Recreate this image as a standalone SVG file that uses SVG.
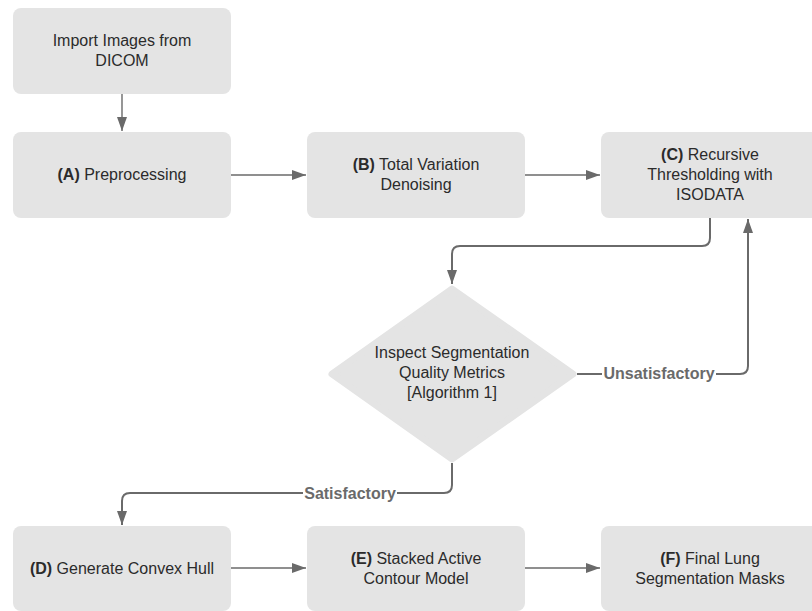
<svg xmlns="http://www.w3.org/2000/svg" width="812" height="611" viewBox="0 0 812 611">
<style>
.box{fill:#e4e4e4;}
.t{font-family:"Liberation Sans",Arial,sans-serif;font-size:16px;fill:#2b2b2b;text-anchor:middle;}
.b{font-weight:bold;}
.c{fill:none;stroke:#6a6a6a;}
.thin{stroke-width:1.4;}
.thick{stroke-width:2;}
.lbl{font-family:"Liberation Sans",Arial,sans-serif;font-size:16px;font-weight:bold;fill:#6a6a6a;text-anchor:middle;}
</style>
<defs>
<marker id="ah" markerUnits="userSpaceOnUse" markerWidth="14" markerHeight="10" refX="14" refY="5" orient="auto">
<path d="M0,0 L14,5 L0,10 z" fill="#6a6a6a"/>
</marker>
</defs>
<rect width="812" height="611" fill="#ffffff"/>
<g id="connectors">
<path class="c thin" d="M122,94 V131" marker-end="url(#ah)"/>
<path class="c thin" d="M231,175 H306" marker-end="url(#ah)"/>
<path class="c thin" d="M525,175 H600" marker-end="url(#ah)"/>
<path class="c thin" d="M231,568 H306" marker-end="url(#ah)"/>
<path class="c thin" d="M525,568 H600" marker-end="url(#ah)"/>
<path class="c thick" d="M710,218 V238 Q710,246 702,246 H460 Q452,246 452,254 V284" marker-end="url(#ah)"/>
<path class="c thick" d="M577,374 H740 Q748,374 748,366 V219" marker-end="url(#ah)"/>
<path class="c thick" d="M452,463 V485 Q452,493 444,493 H130 Q122,493 122,501 V525" marker-end="url(#ah)"/>
<rect x="602" y="364" width="114" height="20" fill="#ffffff"/>
<text class="lbl" x="659" y="379">Unsatisfactory</text>
<rect x="303" y="484" width="94" height="20" fill="#ffffff"/>
<text class="lbl" x="350" y="499">Satisfactory</text>
</g>
<g id="import">
<rect class="box" x="13" y="8" width="218" height="86" rx="8"/>
<text class="t" x="122" y="46">Import Images from</text>
<text class="t" x="122" y="66">DICOM</text>
</g>
<g id="nodeA">
<rect class="box" x="13" y="132" width="218" height="86" rx="8"/>
<text class="t" x="122" y="180"><tspan class="b">(A)</tspan> Preprocessing</text>
</g>
<g id="nodeB">
<rect class="box" x="307" y="132" width="218" height="86" rx="8"/>
<text class="t" x="416" y="170"><tspan class="b">(B)</tspan> Total Variation</text>
<text class="t" x="416" y="190">Denoising</text>
</g>
<g id="nodeC">
<rect class="box" x="601" y="132" width="218" height="86" rx="8"/>
<text class="t" x="710" y="160"><tspan class="b">(C)</tspan> Recursive</text>
<text class="t" x="710" y="180">Thresholding with</text>
<text class="t" x="710" y="200">ISODATA</text>
</g>
<g id="decision">
<polygon points="452,289 573,374 452,459 332,374" fill="#e4e4e4" stroke="#e4e4e4" stroke-width="7" stroke-linejoin="round"/>
<text class="t" x="452" y="358">Inspect Segmentation</text>
<text class="t" x="452" y="378">Quality Metrics</text>
<text class="t" x="452" y="398">[Algorithm 1]</text>
</g>
<g id="nodeD">
<rect class="box" x="13" y="526" width="218" height="85" rx="8"/>
<text class="t" x="122" y="574"><tspan class="b">(D)</tspan> Generate Convex Hull</text>
</g>
<g id="nodeE">
<rect class="box" x="307" y="526" width="218" height="85" rx="8"/>
<text class="t" x="416" y="564"><tspan class="b">(E)</tspan> Stacked Active</text>
<text class="t" x="416" y="584">Contour Model</text>
</g>
<g id="nodeF">
<rect class="box" x="601" y="526" width="218" height="85" rx="8"/>
<text class="t" x="710" y="564"><tspan class="b">(F)</tspan> Final Lung</text>
<text class="t" x="710" y="584">Segmentation Masks</text>
</g>
</svg>
